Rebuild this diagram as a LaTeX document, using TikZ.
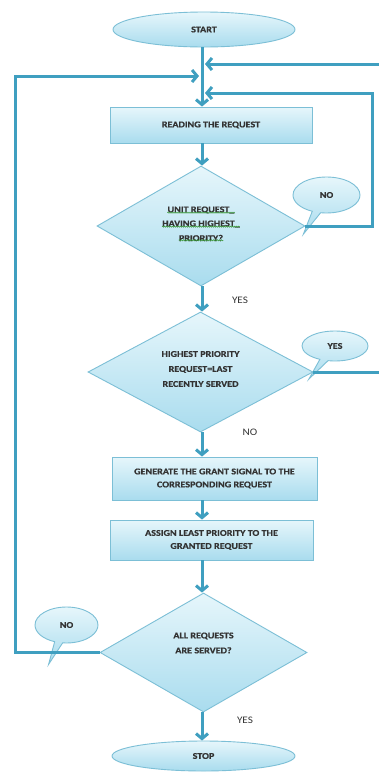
\documentclass[tikz,border=0pt]{standalone}
\usepackage{fontspec}
\setmainfont{Carlito}
\newfontfamily\wideb[FakeStretch=1.15,FakeBold=0.6]{Carlito Bold}
\newfontfamily\widel[FakeStretch=1.12]{Carlito}
\usetikzlibrary{shapes.geometric,shapes.callouts,arrows.meta,decorations.pathmorphing}
\definecolor{lineblue}{HTML}{3F9FC0}
\definecolor{bordc}{HTML}{7CBFD6}
\definecolor{fillA}{HTML}{E6F6FB}
\definecolor{fillB}{HTML}{A9DCEE}
\definecolor{txtc}{HTML}{333333}
\definecolor{squig}{HTML}{3C9A3C}
\tikzset{
  flow/.style={draw=lineblue, line width=3pt, -{Straight Barb[length=5pt,width=12pt]}},
  box/.style={draw=bordc, line width=0.9pt, top color=fillA, bottom color=fillB, inner sep=0pt,
              font=\wideb\fontsize{8.8}{13}\selectfont, text=txtc, align=center},
  rbox/.style={box, rectangle},
  dia/.style={box, diamond},
  term/.style={box, ellipse},
  bub/.style={box, ellipse callout},
  txt/.style={font=\wideb\fontsize{8.8}{15}\selectfont, text=txtc, align=center},
  sqline/.style={font=\wideb\fontsize{8.8}{10}\selectfont, text=txtc, inner sep=0pt},
  wavy/.style={draw=squig, line width=0.5pt, decorate, decoration={snake, amplitude=0.6pt, segment length=2pt}},
  lab/.style={font=\widel\fontsize{10}{11}\selectfont, text=txtc},
}
\begin{document}
\begin{tikzpicture}[x=1pt,y=-1pt]
\useasboundingbox (0,0) rectangle (378,774);
\fill[white] (0,0) rectangle (378,774);
\coordinate (mx) at (202,0);

\node[term, minimum width=182pt, minimum height=35pt] (start) at (204,29.5) {START};
\node[rbox, minimum width=202pt, minimum height=36pt] (r1) at (211,125) {READING THE REQUEST};
\node[dia, minimum width=208pt, minimum height=120pt] (d1) at (201,226) {};
\node[sqline] (u1) at (201,210) {UNIT REQUEST\_};
\node[sqline] (u2) at (201,224) {HAVING HIGHEST\_};
\node[sqline] (u3) at (201,238) {PRIORITY?};
\draw[wavy] ([yshift=1pt]u1.south west) -- ([yshift=1pt]u1.south east);
\draw[wavy] ([yshift=1pt]u2.south west) -- ([yshift=1pt]u2.south east);
\draw[wavy] ([yshift=1pt]u3.south west) -- ([yshift=1pt]u3.south east);
\node[dia, minimum width=225pt, minimum height=120pt] (d2) at (200.5,372) {};
\node[txt] (t2) at (200.5,369) {HIGHEST PRIORITY\\ REQUEST=LAST\\ RECENTLY SERVED};
\node[rbox, minimum width=205pt, minimum height=43pt] (r2) at (214.5,478.5) {GENERATE THE GRANT SIGNAL TO THE\\ CORRESPONDING REQUEST};
\node[rbox, minimum width=203pt, minimum height=40pt] (r3) at (211.5,540) {ASSIGN LEAST PRIORITY TO THE\\ GRANTED REQUEST};
\node[dia, minimum width=207pt, minimum height=119pt] (d3) at (203.5,652.5) {};
\node[txt] (t3) at (203.5,643) {ALL REQUESTS\\ ARE SERVED?};
\node[term, minimum width=183pt, minimum height=30pt] (stop) at (203.5,756) {STOP};

% callouts
\node[bub, minimum width=67pt, minimum height=36pt, callout relative pointer={(-13,22)}] (b1) at (326.5,195) {NO};
\node[bub, minimum width=66pt, minimum height=30pt, callout relative pointer={(-15,19)}] (b2) at (335,346) {YES};
\node[bub, minimum width=63pt, minimum height=36pt, callout relative pointer={(-10,22)}] (b3) at (66.5,625) {NO};

% labels
\node[lab] (l1) at (240,300) {YES};
\node[lab] (l2) at (250,432) {NO};
\node[lab] (l3) at (245,720) {YES};

% main flow
\draw[flow] (start.south -| mx) -- (r1.north -| mx);
\draw[flow] (r1.south -| mx) -- (d1.north -| mx);
\draw[flow] (d1.south -| mx) -- (d2.north -| mx);
\draw[flow] (d2.south -| mx) -- (r2.north -| mx);
\draw[flow] (r2.south -| mx) -- (r3.north -| mx);
\draw[flow] (r3.south -| mx) -- (d3.north -| mx);
\draw[flow] (d3.south -| mx) -- (stop.north -| mx);

% loops
\coordinate (c1a) at (372,0);
\coordinate (e1) at (205,93);
\draw[flow] (d1.east) -- (d1.east -| c1a) -- (c1a |- e1) -- (e1);
\coordinate (c2a) at (386,0);
\coordinate (e2) at (205,64);
\draw[flow] (d2.east) -- (d2.east -| c2a) -- (c2a |- e2) -- (e2);
\coordinate (c3a) at (15,0);
\coordinate (e3) at (199,76);
\draw[flow] (d3.west) -- (d3.west -| c3a) -- (c3a |- e3) -- (e3);
\end{tikzpicture}
\end{document}
